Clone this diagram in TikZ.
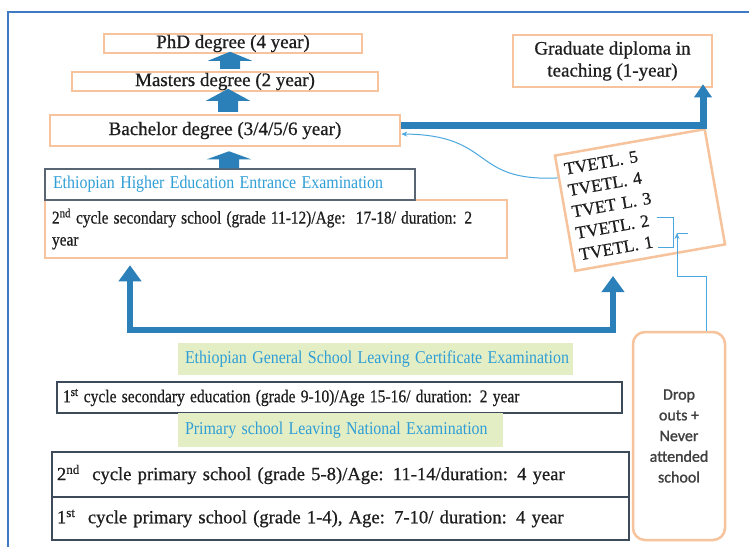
\documentclass[tikz,border=0pt]{standalone}
\usepackage{fontspec}
\usepackage{graphicx}
\setmainfont{Liberation Serif}
\newfontfamily\heavy[FakeBold=0.7]{Liberation Serif}
\newfontfamily\dropfont[FakeBold=1.2]{Carlito}
\usetikzlibrary{arrows.meta}

\definecolor{peach}{HTML}{F6C39C}
\definecolor{blk}{HTML}{2B80B9}
\definecolor{thin}{HTML}{4BA7DE}
\definecolor{frame}{HTML}{3E7BC4}
\definecolor{darkb}{HTML}{3D4A5A}
\definecolor{exam}{HTML}{2F9ED6}
\definecolor{greenf}{HTML}{E3EEC5}
\definecolor{txt}{HTML}{1E1E1E}

\newcommand\cond[2][0.885]{\scalebox{#1}[1]{#2}}

\begin{document}
\begin{tikzpicture}[x=1pt,y=-1pt,
  every node/.style={text=txt},
  peachbox/.style={draw=peach, line width=2.5pt, inner sep=0pt, font=\heavy\fontsize{19}{22}\selectfont},
  darkbox/.style={draw=darkb, line width=1.5pt, inner sep=0pt, font=\heavy\fontsize{19}{22}\selectfont},
  exambox/.style={fill=greenf, draw=none, text=exam, inner ysep=0pt, inner xsep=7pt, font=\fontsize{18}{21}\selectfont},
  blockfill/.style={fill=blk},
  bigarrow/.style={draw=blk, line width=6.5pt, line join=miter},
  thinline/.style={draw=thin, line width=1pt},
]
\useasboundingbox (0,0) rectangle (749,547);
\fill[white] (0,0) rectangle (749,547);
\draw[frame, line width=2pt] (8,547) -- (8,12) -- (749,12);

% higher education boxes
\node[peachbox, minimum width=258pt, minimum height=19pt] (phd) at (233,43.5) {PhD degree (4 year)};
\node[peachbox, minimum width=306pt, minimum height=19pt] (mas) at (225,81.5) {Masters degree (2 year)};
\node[peachbox, minimum width=350pt, minimum height=31pt] (bach) at (225,130.5) {Bachelor degree (3/4/5/6 year)};
\node[peachbox, minimum width=199pt, minimum height=52pt, align=center] (grad) at (612.5,61) {Graduate diploma in\\teaching (1-year)};

% secondary
\node[peachbox, minimum width=462pt, minimum height=58pt, text width=448pt, align=left, font=\heavy\fontsize{18}{22}\selectfont] (sec2) at (276,229)
  {\cond[0.855]{2\textsuperscript{nd} cycle secondary school (grade 11-12)/Age:\ \ 17-18/ duration: 2}\\\cond[0.855]{year}};
\node[darkbox, draw=darkb!85, minimum width=370pt, minimum height=31pt, text width=354pt, align=left, text=exam, font=\fontsize{18}{21}\selectfont] (hee) at (230,184.5)
  {\cond{Ethiopian Higher Education Entrance Examination}};

% block arrows
\fill[blockfill] ([xshift=5pt]mas.north) ++(-10,-2) -- ++(0,-8) -- ++(-12,0) -- ++(22,-9) -- ++(22,9) -- ++(-12,0) -- ++(0,8) -- cycle;
\fill[blockfill] ([xshift=3pt]bach.north) ++(-10,-2) -- ++(0,-11) -- ++(-12,0) -- ++(22,-12) -- ++(22,12) -- ++(-12,0) -- ++(0,11) -- cycle;
\fill[blockfill] ([xshift=-1pt]hee.north) ++(-10,0) -- ++(0,-9) -- ++(-12,0) -- ++(22,-8) -- ++(22,8) -- ++(-12,0) -- ++(0,9) -- cycle;

% TVET
\node[draw=peach, line width=2.5pt, rotate=10, minimum width=152pt, minimum height=117pt, text width=138pt, align=left, inner sep=0pt, font=\heavy\fontsize{17.5}{21.7}\selectfont] (tvet) at (640,200)
  {TVETL. 5\\TVETL. 4\\TVET L. 3\\TVETL. 2\\TVETL. 1};

% bachelor -> graduate diploma
\draw[draw=blk, line width=7pt, -{Triangle[width=17pt,length=13pt]}] ([yshift=5.5pt]bach.east) -| ([xshift=90.5pt,yshift=4pt]grad.south);

% bottom boxes
\node[exambox, minimum width=395pt, minimum height=32pt, text width=381pt, align=left] (egsl) at (375.5,359)
  {\cond{Ethiopian General School Leaving Certificate Examination}};
\node[darkbox, minimum width=565pt, minimum height=31pt, text width=553pt, align=left, font=\heavy\fontsize{18}{21}\selectfont] (sec1) at (339.5,397.5)
  {\cond[0.865]{1\textsuperscript{st} cycle secondary education (grade 9-10)/Age 15-16/ duration: 2 year}};
\node[exambox, minimum width=325pt, minimum height=34pt, text width=311pt, align=left] (psln) at (340.5,430)
  {\cond{Primary school Leaving National Examination}};
\node[darkbox, minimum width=577pt, minimum height=45pt, text width=567pt, align=left, font=\heavy\fontsize{18.6}{22}\selectfont] (prim2) at (340.5,474.5)
  {2\textsuperscript{nd}\ \ cycle primary school (grade 5-8)/Age: 11-14/duration: 4 year};
\node[darkbox, minimum width=577pt, minimum height=43pt, text width=567pt, align=left, font=\heavy\fontsize{18.6}{22}\selectfont] (prim1) at (340.5,518.5)
  {1\textsuperscript{st}\ \ cycle primary school (grade 1-4), Age: 7-10/ duration: 4 year};

% drop outs
\node[draw=peach, line width=2.5pt, rounded corners=12pt, minimum width=92pt, minimum height=208pt, align=center, inner sep=0pt, text=txt!85, font=\dropfont\fontsize{16}{20.7}\selectfont] (drop) at (679,436)
  {Drop\\outs +\\Never\\attended\\school};

% big L arrow from 1st cycle secondary level
\coordinate (lb) at (130,330);
\coordinate (rb) at (613,330);
\draw[bigarrow, {Triangle[width=22pt,length=16pt]}-{Triangle[width=22pt,length=16pt]}]
  ([yshift=-6pt]sec2.south -| lb) -- (lb) -- (rb) -- (613,276);

% thin connectors
\draw[thinline, -{Stealth[length=6pt,width=5pt]}] (tvet.155) .. controls (470,182) and (495,135) .. ([yshift=-3.5pt]bach.east);
\coordinate (b1) at (657,217);
\coordinate (b2) at (673,217);
\coordinate (b3) at (673,247);
\coordinate (b4) at (658,247);
\draw[thinline] (b1) -- (b2) -- (b3) -- (b4);
\coordinate (tip) at (677,233);
\coordinate (tipr) at (688,233);
\draw[thinline] (tip) -- (tipr);
\draw[thinline, -{Stealth[length=6pt,width=5pt]}] ([xshift=27pt]drop.north) -- ++(0,-54) -| (tip);
\end{tikzpicture}
\end{document}
